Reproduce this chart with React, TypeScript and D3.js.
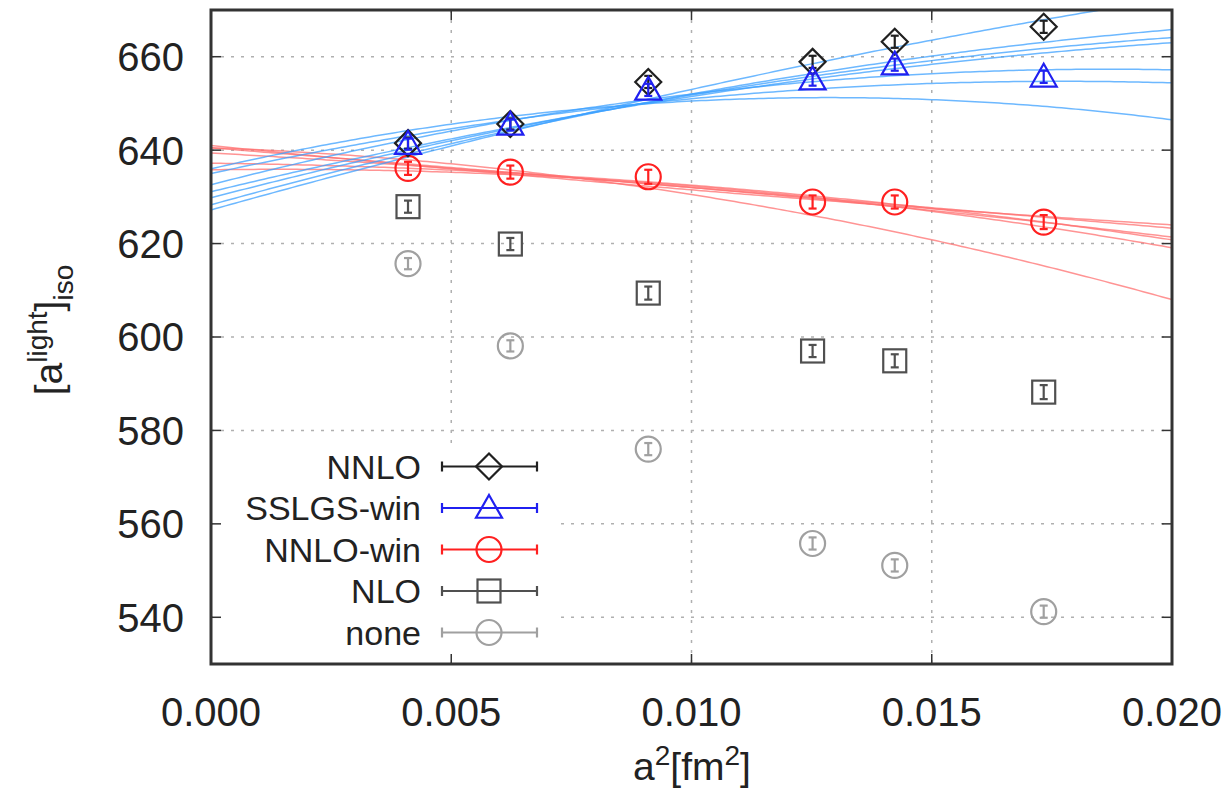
import React from "react";
import * as d3 from "d3";

// a^2 [fm^2] of the ensembles
const aSq = [0.0041, 0.00623, 0.0091, 0.01252, 0.01423, 0.01733];

// series values (central) and errors
const nnlo = [641.5, 645.6, 654.6, 658.9, 663.2, 666.4];
const nnloErr = [1.2, 1.2, 1.3, 1.3, 1.3, 1.3];
const sslgs = [641.3, 645.4, 652.9, 655.1, 658.3, 655.7];
const sslgsErr = [1.2, 1.2, 1.3, 1.3, 1.3, 1.3];
const nnloWin = [636.1, 635.3, 634.3, 628.9, 628.9, 624.6];
const nnloWinErr = [1.4, 1.4, 1.5, 1.4, 1.4, 1.5];
const nlo = [627.9, 619.9, 609.4, 597.0, 594.9, 588.2];
const nloErr = [1.3, 1.3, 1.4, 1.3, 1.4, 1.5];
const none = [615.7, 598.1, 576.0, 555.8, 551.1, 541.2];
const noneErr = [1.2, 1.2, 1.3, 1.3, 1.3, 1.3];

// fit curves: value at a^2 = 0, 0.01, 0.02
const blueFits = [
  [627.2, 653.0, 672.5],
  [628.3, 652.0, 665.8],
  [629.8, 651.8, 664.1],
  [631.1, 651.5, 663.0],
  [632.6, 652.0, 657.2],
  [635.0, 651.0, 654.4],
  [636.0, 650.5, 646.5],
];
const redFits = [
  [641.0, 631.5, 624.0],
  [640.5, 632.0, 623.3],
  [639.4, 632.0, 621.4],
  [637.2, 632.5, 620.8],
  [635.8, 632.3, 619.1],
  [640.5, 630.5, 608.0],
];

const xTicks = [0, 0.005, 0.01, 0.015, 0.02];
const yTicks = [540, 560, 580, 600, 620, 640, 660];

const legendNames = ["NNLO", "SSLGS-win", "NNLO-win", "NLO", "none"];

const W = 1228, H = 795;
const L = 211, R = 1172, T = 10, B = 664;

const x = d3.scaleLinear().domain([0, 0.02]).range([L, R]);
const y = d3.scaleLinear().domain([530, 670]).range([B, T]);

function quad(v: number[]) {
  const [f0, f1, f2] = v;
  const h = 0.01;
  const c = (f2 - 2 * f1 + f0) / (2 * h * h);
  const b = (f1 - f0) / h - c * h;
  return (t: number) => f0 + b * t + c * t * t;
}

const samples = d3.range(0, 201).map((i) => (i / 200) * 0.02);

type Shape = "diamond" | "triangle" | "circle" | "square";

function Symbol({ cx, cy, shape, color }: { cx: number; cy: number; shape: Shape; color: string }) {
  const sw = 2.2;
  if (shape === "diamond") {
    const r = 13;
    return <path d={`M${cx},${cy - r}L${cx + r},${cy}L${cx},${cy + r}L${cx - r},${cy}Z`} fill="none" stroke={color} strokeWidth={sw} />;
  }
  if (shape === "triangle") {
    const r = 13;
    return <path d={`M${cx},${cy - r}L${cx + r},${cy + r * 0.75}L${cx - r},${cy + r * 0.75}Z`} fill="none" stroke={color} strokeWidth={sw} />;
  }
  if (shape === "square") {
    const r = 11.5;
    return <rect x={cx - r} y={cy - r} width={2 * r} height={2 * r} fill="none" stroke={color} strokeWidth={sw} />;
  }
  return <circle cx={cx} cy={cy} r={12.5} fill="none" stroke={color} strokeWidth={sw} />;
}

function Series({ vals, errs, shape, color }: { vals: number[]; errs: number[]; shape: Shape; color: string }) {
  return (
    <g>
      {vals.map((v, i) => {
        const cx = x(aSq[i]);
        const cy = y(v);
        const y1 = y(v + errs[i]);
        const y2 = y(v - errs[i]);
        return (
          <g key={i}>
            <line x1={cx} x2={cx} y1={y1} y2={y2} stroke={color} strokeWidth={2.2} />
            <line x1={cx - 4} x2={cx + 4} y1={y1} y2={y1} stroke={color} strokeWidth={2.2} />
            <line x1={cx - 4} x2={cx + 4} y1={y2} y2={y2} stroke={color} strokeWidth={2.2} />
            <Symbol cx={cx} cy={cy} shape={shape} color={color} />
          </g>
        );
      })}
    </g>
  );
}

export default function App() {
  const line = d3.line<number>().x((t) => x(t));
  const fmt = d3.format(".3f");
  const gridColor = "#b0b0b0";
  const font = "'Liberation Sans', Arial, Helvetica, sans-serif";

  const legendColors = ["#202020", "#2020f0", "#ff2020", "#505050", "#a0a0a0"];
  const legendShapes: Shape[] = ["diamond", "triangle", "circle", "square", "circle"];
  const legendY0 = 466.5;
  const legendDy = 41.5;

  return (
    <svg width={W} height={H} style={{ position: "absolute", left: 0, top: 0, background: "#fff" }} fontFamily={font}>
      <defs>
        <clipPath id="plot">
          <rect x={L} y={T} width={R - L} height={B - T} />
        </clipPath>
      </defs>
      {/* grid */}
      {yTicks.map((v) => (
        <line key={"gy" + v} x1={L} x2={R} y1={y(v)} y2={y(v)} stroke={gridColor} strokeWidth={1.5} strokeDasharray="3,7" />
      ))}
      {xTicks.slice(1, -1).map((v) => (
        <line key={"gx" + v} x1={x(v)} x2={x(v)} y1={T} y2={B} stroke={gridColor} strokeWidth={1.5} strokeDasharray="3,7" />
      ))}

      {/* fit curves */}
      <g clipPath="url(#plot)" fill="none">
        {redFits.map((f, i) => {
          const q = quad(f);
          return <path key={"r" + i} d={line.y((t) => y(q(t)))(samples) || ""} stroke="#ff7070" strokeOpacity={0.75} strokeWidth={1.5} />;
        })}
        {blueFits.map((f, i) => {
          const q = quad(f);
          return <path key={"b" + i} d={line.y((t) => y(q(t)))(samples) || ""} stroke="#3ca0ff" strokeOpacity={0.75} strokeWidth={1.5} />;
        })}
      </g>

      {/* data points */}
      <Series vals={none} errs={noneErr} shape="circle" color="#a0a0a0" />
      <Series vals={nlo} errs={nloErr} shape="square" color="#505050" />
      <Series vals={nnloWin} errs={nnloWinErr} shape="circle" color="#ff2020" />
      <Series vals={nnlo} errs={nnloErr} shape="diamond" color="#202020" />
      <Series vals={sslgs} errs={sslgsErr} shape="triangle" color="#2020f0" />

      {/* legend */}
      <rect x={L + 2} y={443} width={555 - L - 2} height={B - 443 - 2} fill="#fff" />
      {legendNames.map((name, i) => {
        const ly = legendY0 + i * legendDy;
        const c = legendColors[i];
        return (
          <g key={name}>
            <text x={421} y={ly} dy="0.36em" textAnchor="end" fontSize={34} fill="#222">{name}</text>
            <line x1={442} x2={537} y1={ly} y2={ly} stroke={c} strokeWidth={2.2} />
            <line x1={442} x2={442} y1={ly - 5} y2={ly + 5} stroke={c} strokeWidth={2.2} />
            <line x1={537} x2={537} y1={ly - 5} y2={ly + 5} stroke={c} strokeWidth={2.2} />
            <Symbol cx={489} cy={ly} shape={legendShapes[i]} color={c} />
          </g>
        );
      })}

      {/* ticks */}
      {yTicks.map((v) => (
        <g key={"ty" + v}>
          <line x1={L} x2={L + 10} y1={y(v)} y2={y(v)} stroke="#333" strokeWidth={1.5} />
          <line x1={R - 10} x2={R} y1={y(v)} y2={y(v)} stroke="#333" strokeWidth={1.5} />
          <text x={184} y={y(v)} dy="0.36em" textAnchor="end" fontSize={40} fill="#222">{v}</text>
        </g>
      ))}
      {xTicks.map((v) => (
        <g key={"tx" + v}>
          <line x1={x(v)} x2={x(v)} y1={B} y2={B - 10} stroke="#333" strokeWidth={1.5} />
          <line x1={x(v)} x2={x(v)} y1={T} y2={T + 10} stroke="#333" strokeWidth={1.5} />
          <text x={x(v)} y={712} dy="0.36em" textAnchor="middle" fontSize={40} fill="#222">{fmt(v)}</text>
        </g>
      ))}

      {/* border */}
      <rect x={L} y={T} width={R - L} height={B - T} fill="none" stroke="#333" strokeWidth={3} />

      {/* axis titles */}
      <text x={692} y={780} textAnchor="middle" fontSize={39} fill="#222">
        a<tspan dy={-15} fontSize={28}>2</tspan>
        <tspan dy={15}>[fm</tspan>
        <tspan dy={-15} fontSize={28}>2</tspan>
        <tspan dy={15}>]</tspan>
      </text>
      <text transform="translate(62,330) rotate(-90)" textAnchor="middle" fontSize={39} fill="#222">
        [a<tspan dy={-15} fontSize={28}>light</tspan>
        <tspan dy={15}>]</tspan>
        <tspan dy={11} fontSize={28}>iso</tspan>
      </text>
    </svg>
  );
}
